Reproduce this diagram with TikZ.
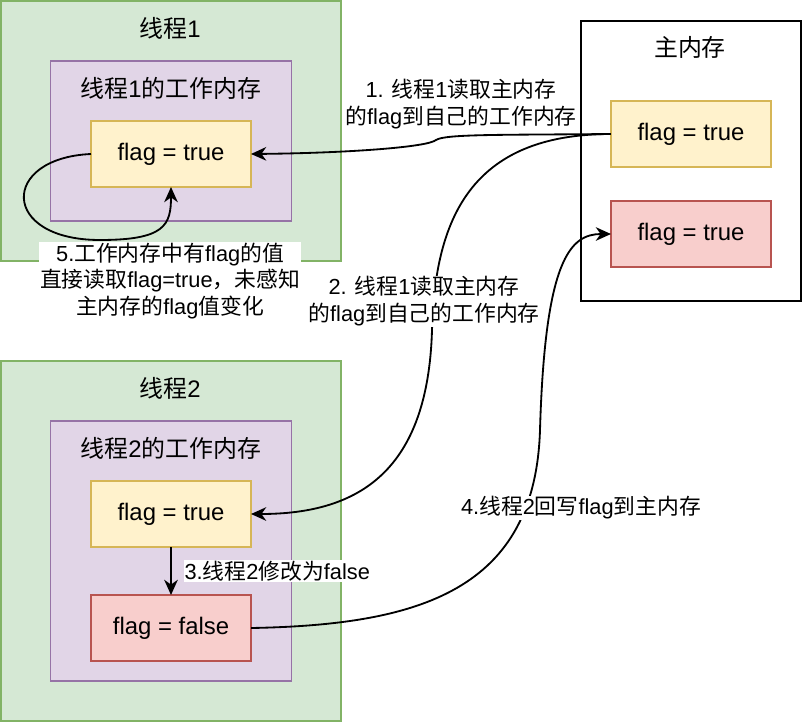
\documentclass[tikz,border=0pt]{standalone}
\usepackage{fontspec}
\setmainfont{Liberation Sans}
\newfontfamily\zhfont{Noto Sans CJK SC}
\newcommand{\zh}[1]{{\zhfont #1}}
\definecolor{threadfill}{HTML}{D5E8D4}
\definecolor{threadline}{HTML}{82B366}
\definecolor{memfill}{HTML}{E1D5E7}
\definecolor{memline}{HTML}{9673A6}
\definecolor{okfill}{HTML}{FFF2CC}
\definecolor{okline}{HTML}{D6B656}
\definecolor{badfill}{HTML}{F8CECC}
\definecolor{badline}{HTML}{B85450}
\usetikzlibrary{arrows.meta}

\begin{document}
\begin{tikzpicture}[x=0.025cm, y=-0.025cm,
    box/.style={draw, line width=1.2pt, inner sep=0pt, outer sep=0pt},
    thread/.style={box, draw=threadline, fill=threadfill, minimum width=8.5cm},
    workmem/.style={box, draw=memline, fill=memfill, minimum width=6.025cm},
    flagok/.style={box, draw=okline, fill=okfill, minimum width=4cm, minimum height=1.65cm, font=\fontsize{17}{20}\selectfont},
    flagbad/.style={flagok, draw=badline, fill=badfill},
    title/.style={font=\fontsize{17}{20}\selectfont},
    link/.style={-{Stealth[length=0.38cm, width=0.34cm, inset=0.12cm]}, line width=1.3pt},
    note/.style={fill=white, inner sep=0.5pt, align=center, font=\fontsize{15.5}{19}\selectfont}]
  \useasboundingbox (0,0) rectangle (802,724);

  % Thread 1
  \node[thread, minimum height=6.5cm] (t1) at (171,131) {};
  \node[title] (t1title) at (170,28) {\zh{线程}1};
  \node[workmem, minimum height=4cm] (t1mem) at (171,141) {};
  \node[title] (t1memtitle) at (171,88) {\zh{线程}1\zh{的工作内存}};
  \node[flagok] (t1flag) at (171,154) {flag = true};

  % Thread 2
  \node[thread, minimum height=9cm] (t2) at (171,541) {};
  \node[title] (t2title) at (170,388) {\zh{线程}2};
  \node[workmem, minimum height=6.5cm] (t2mem) at (171,551) {};
  \node[title] (t2memtitle) at (171,448) {\zh{线程}2\zh{的工作内存}};
  \node[flagok] (t2flag) at (171,514) {flag = true};
  \node[flagbad] (t2false) at (171,628) {flag = false};

  % Main memory
  \node[box, draw=black, fill=white, minimum width=5.5cm, minimum height=7cm] (main) at (691,161) {};
  \node[title] (maintitle) at (690,47) {\zh{主内存}};
  \node[flagok] (mainflag) at (691,134) {flag = true};
  \node[flagbad] (mainbad) at (691,234) {flag = true};

  % Arrows
  \draw[link] (mainflag.west) .. controls (500,135) and (445,134) .. (436,140)
    .. controls (428,147) and (350,153) .. (t1flag.east);
  \draw[link] (mainflag.west) .. controls (470,134) and (435,220) .. (432,330)
    .. controls (428,470) and (360,514) .. (t2flag.east);
  \draw[link] (t2flag) -- node[note, right, xshift=0.3cm] (step3) {3.\zh{线程}2\zh{修改为}false} (t2false);
  \draw[link] (t2false.east) .. controls (420,625) and (535,590) .. (540,430)
    .. controls (545,260) and (570,234) .. (mainbad.west);
  \draw[link] (t1flag.west) .. controls (0,158) and (0,240) .. (100,240)
    .. controls (165,240) and (171,225) .. (t1flag.south);

  % Labels
  \node[note] (step5) at (170,281) {5.\zh{工作内存中有}flag\zh{的值}\\\zh{直接读取}flag=true\zh{，未感知}\\\zh{主内存的}flag\zh{值变化}};
  \node[note] (step1) at (461,104) {1. \zh{线程}1\zh{读取主内存}\\\zh{的}flag\zh{到自己的工作内存}};
  \node[note] (step2) at (424,301) {2. \zh{线程}1\zh{读取主内存}\\\zh{的}flag\zh{到自己的工作内存}};
  \node[note] (step4) at (581,508) {4.\zh{线程}2\zh{回写}flag\zh{到主内存}};
\end{tikzpicture}
\end{document}
